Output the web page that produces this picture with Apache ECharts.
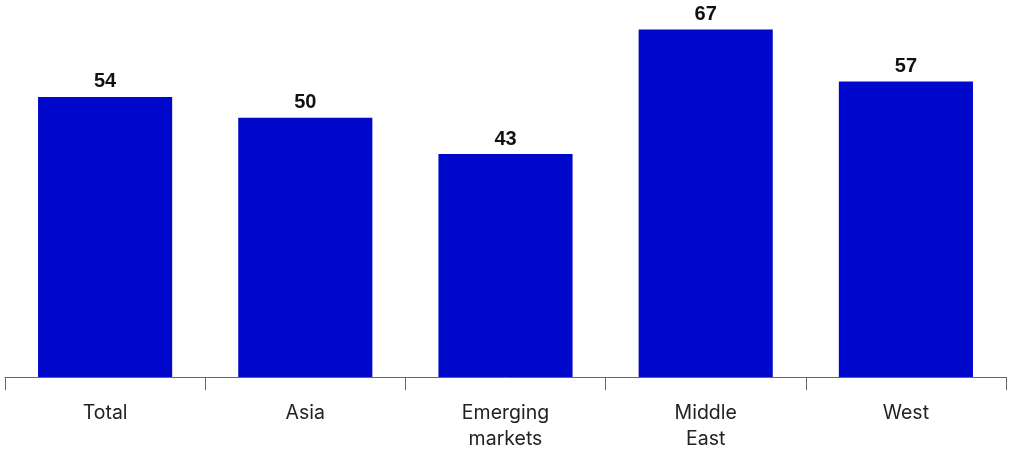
<!DOCTYPE html>
<html><head><meta charset="utf-8">
<script src="https://cdn.jsdelivr.net/npm/echarts@6/dist/echarts.min.js"></script>
<style>html,body{margin:0;padding:0;background:#fff}#c{width:1009px;height:450px}</style>
</head><body><div id="c"></div>
<script>
const categories = ["Total", "Asia", "Emerging\nmarkets", "Middle\nEast", "West"];
const values = [54, 50, 43, 67, 57];

const chart = echarts.init(document.getElementById('c'), null, {renderer: 'canvas'});
chart.setOption({
  animation: false,
  backgroundColor: '#ffffff',
  grid: {left: 5, right: 3, top: 14, bottom: 73, containLabel: false, outerBoundsMode: 'none'},
  xAxis: {
    type: 'category',
    data: categories,
    axisLine: {show: true, lineStyle: {color: '#666666', width: 1}},
    axisTick: {show: true, length: 13, lineStyle: {color: '#666666', width: 1}},
    axisLabel: {color: '#222222', fontSize: 19.5, fontFamily: 'Inter', lineHeight: 26, margin: 23, interval: 0}
  },
  yAxis: {
    type: 'value', min: 0, max: 70, show: false,
    splitLine: {show: false}
  },
  series: [{
    type: 'bar',
    data: values,
    barWidth: '67%',
    itemStyle: {color: '#0008CC'},
    label: {show: true, position: 'top', distance: 5, color: '#111111', fontSize: 20, fontWeight: 'bold', fontFamily: 'Liberation Sans'}
  }]
});
</script></body></html>
